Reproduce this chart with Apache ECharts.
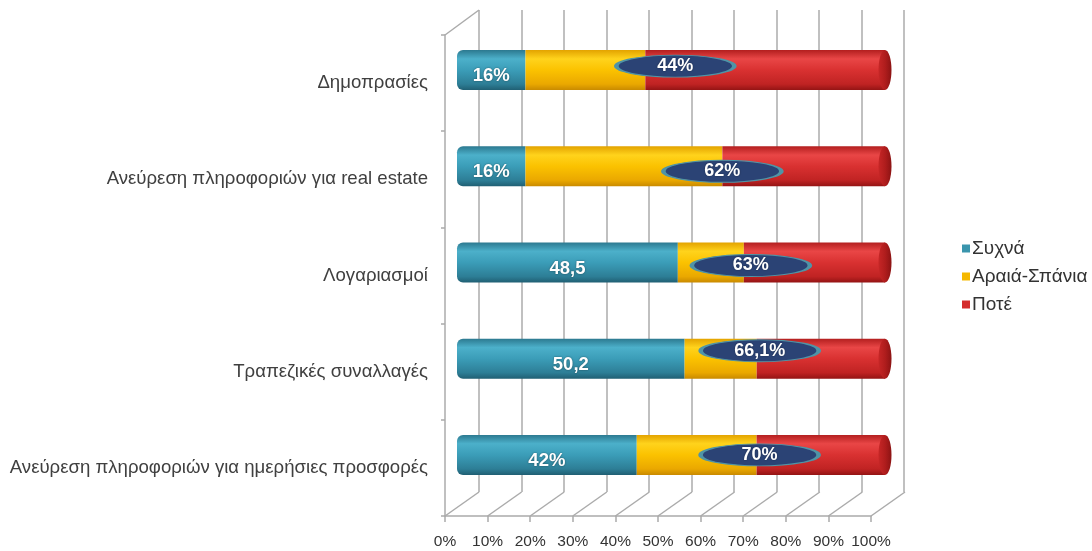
<!DOCTYPE html>
<html>
<head>
<meta charset="utf-8">
<script src="https://cdn.jsdelivr.net/npm/echarts@6/dist/echarts.min.js"></script>
<style>
  html, body { margin: 0; padding: 0; background: #ffffff; }
  #chart { width: 1092px; height: 551px; }
</style>
</head>
<body>
<div id="chart"></div>
<script>
// Online activities and how often they are carried out
const categories = [
  'Δημοπρασίες',
  'Ανεύρεση πληροφοριών για real estate',
  'Λογαριασμοί',
  'Τραπεζικές συναλλαγές',
  'Ανεύρεση πληροφοριών για ημερήσιες προσφορές'
];
const seriesNames = ['Συχνά', 'Αραιά-Σπάνια', 'Ποτέ'];
const often  = [16, 16, 48.5, 50.2, 42];
const rarely = [28, 46, 14.5, 15.9, 28];
const never  = [56, 38, 31, 28.3, 30];
const percentTicks = [0, 10, 20, 30, 40, 50, 60, 70, 80, 90, 100];

// Each row is drawn as a 100% stack
const totals = often.map((v, i) => v + rarely[i] + never[i]);
const toShare = arr => arr.map((v, i) => ({ value: v / totals[i] * 100, raw: v }));
// "at least occasionally" = often + rarely (shown in the oval badge)
const atLeastSometimes = often.map((v, i) => Math.round((v + rarely[i]) * 10) / 10);

// small nudges of the oval badges around the end of the yellow segment
const badgeNudge = [[30, -4], [0, 5], [7, 3], [3, -8], [3, 0]];

const FONT = '"Liberation Sans", Arial, sans-serif';
const GRID_LINE = '#ababab';

function cyl(stops) {
  return new echarts.graphic.LinearGradient(0, 0, 0, 1,
    stops.map(s => ({ offset: s[0], color: s[1] })));
}
const tealFill   = cyl([[0, '#2c7990'], [0.22, '#4cb0ca'], [0.5, '#3b9db8'], [0.85, '#2d7e96'], [1, '#205f73']]);
const yellowFill = cyl([[0, '#e3a300'], [0.22, '#ffd31c'], [0.5, '#fbc200'], [0.85, '#eaa800'], [1, '#c98a00']]);
const redFill    = cyl([[0, '#b31f1f'], [0.22, '#e94646'], [0.5, '#d93131'], [0.85, '#c02323'], [1, '#941414']]);
const capFill    = new echarts.graphic.LinearGradient(0, 0, 1, 0, [
  { offset: 0, color: '#c62626' }, { offset: 0.5, color: '#b01d1d' }, { offset: 1, color: '#8c1313' }
]);

const legendColors = ['#3a95ad', '#f5b800', '#d42b2b'];

const valueLabel = {
  show: true,
  position: 'inside',
  offset: [0, 6],
  color: '#ffffff',
  fontFamily: FONT,
  fontWeight: 'bold',
  fontSize: 18.5,
  textShadowColor: 'rgba(0,0,0,0.45)',
  textShadowBlur: 2,
  formatter: p => Number.isInteger(p.data.raw) ? p.data.raw + '%' : String(p.data.raw).replace('.', ',')
};

const option = {
  backgroundColor: '#ffffff',
  animation: false,
  legend: {
    orient: 'vertical',
    left: 957,
    top: 234,
    itemWidth: 8,
    itemHeight: 8,
    itemGap: 9,
    icon: 'rect',
    selectedMode: false,
    textStyle: { fontFamily: FONT, fontSize: 19, color: '#333333', padding: [0, 0, 0, -3] },
    data: seriesNames.map((n, i) => ({ name: n, itemStyle: { color: legendColors[i] } }))
  },
  grid: [
    // front edge of the box: category labels and percent axis
    { left: 445, top: 35, width: 426, height: 481 },
    // back wall with the vertical gridlines
    { left: 479, top: 10, width: 425, height: 482 },
    // the cylinders sit halfway in depth
    { left: 457, top: 22, width: 428, height: 481 }
  ],
  xAxis: [
    {
      gridIndex: 0, type: 'value', min: 0, max: 100, interval: 10,
      axisLine: { show: true, lineStyle: { color: GRID_LINE, width: 1.5 } },
      axisTick: { show: true, length: 6, lineStyle: { color: GRID_LINE, width: 1.5 } },
      axisLabel: { formatter: '{value}%', fontFamily: FONT, fontSize: 15.5, color: '#333333', margin: 18 },
      splitLine: { show: false }
    },
    {
      gridIndex: 1, type: 'value', min: 0, max: 100, interval: 10,
      axisLine: { show: false }, axisTick: { show: false }, axisLabel: { show: false },
      splitLine: { show: true, lineStyle: { color: GRID_LINE, width: 1.5 } }
    },
    {
      gridIndex: 2, type: 'value', min: 0, max: 100, interval: 10,
      axisLine: { show: false }, axisTick: { show: false }, axisLabel: { show: false },
      splitLine: { show: false }
    }
  ],
  yAxis: [
    {
      gridIndex: 0, type: 'category', data: categories, inverse: true,
      axisLine: { show: true, lineStyle: { color: GRID_LINE, width: 1.5 } },
      axisTick: { show: true, length: 4, lineStyle: { color: GRID_LINE, width: 1.5 } },
      axisLabel: { fontFamily: FONT, fontSize: 18.6, color: '#404040', margin: 17, padding: [5, 0, 0, 0] }
    },
    {
      gridIndex: 1, type: 'category', data: categories, inverse: true, show: false
    },
    {
      gridIndex: 2, type: 'category', data: categories, inverse: true, show: false
    }
  ],
  series: [
    // floor diagonals and the top edge of the left wall
    {
      type: 'custom',
      xAxisIndex: 0, yAxisIndex: 0,
      silent: true,
      z: 1,
      data: percentTicks.map(v => [v, 0]),
      renderItem: (params, api) => {
        const cs = params.coordSys;
        const x = api.coord([api.value(0), 0])[0];
        const yb = cs.y + cs.height;
        const children = [{
          type: 'line',
          shape: { x1: x, y1: yb, x2: x + 34, y2: yb - 24 },
          style: { stroke: GRID_LINE, lineWidth: 1.5 }
        }];
        if (params.dataIndex === 0) {
          children.push({
            type: 'line',
            shape: { x1: cs.x, y1: cs.y, x2: cs.x + 34, y2: cs.y - 25 },
            style: { stroke: GRID_LINE, lineWidth: 1.5 }
          });
        }
        return { type: 'group', children };
      }
    },
    {
      name: seriesNames[0], type: 'bar', stack: 'all',
      xAxisIndex: 2, yAxisIndex: 2, barWidth: 40, z: 3,
      itemStyle: { color: tealFill, borderRadius: [6, 0, 0, 6] },
      label: valueLabel,
      data: toShare(often)
    },
    {
      name: seriesNames[1], type: 'bar', stack: 'all',
      xAxisIndex: 2, yAxisIndex: 2, barWidth: 40, z: 3,
      itemStyle: { color: yellowFill },
      data: toShare(rarely)
    },
    {
      name: seriesNames[2], type: 'bar', stack: 'all',
      xAxisIndex: 2, yAxisIndex: 2, barWidth: 40, z: 3,
      itemStyle: { color: redFill },
      data: toShare(never)
    },
    // end caps of the cylinders
    {
      type: 'custom',
      xAxisIndex: 2, yAxisIndex: 2,
      silent: true, z: 4,
      data: categories.map((c, i) => [100, i]),
      renderItem: (params, api) => {
        const p = api.coord([api.value(0), api.value(1)]);
        return {
          type: 'ellipse',
          shape: { cx: p[0], cy: p[1], rx: 6.5, ry: 20 },
          style: { fill: capFill }
        };
      }
    },
    // oval badges with the cumulative share
    {
      type: 'scatter',
      xAxisIndex: 2, yAxisIndex: 2, z: 5,
      silent: true,
      symbol: 'path://M0,1 A1,1 0 1,1 2,1 A1,1 0 1,1 0,1 Z',
      symbolSize: [118, 22],
      itemStyle: { color: '#2b4375', borderColor: '#4f94a6', borderWidth: 2, opacity: 1 },
      label: {
        show: true, position: 'inside',
        color: '#ffffff', fontFamily: FONT, fontWeight: 'bold', fontSize: 18,
        textShadowColor: 'rgba(0,0,0,0.4)', textShadowBlur: 2,
        formatter: p => String(p.data.raw).replace('.', ',') + '%'
      },
      data: atLeastSometimes.map((v, i) => ({
        value: [(often[i] + rarely[i]) / totals[i] * 100, i],
        raw: v,
        symbolOffset: badgeNudge[i]
      }))
    }
  ]
};

echarts.init(document.getElementById('chart'), null, { renderer: 'canvas' }).setOption(option);
</script>
</body>
</html>
